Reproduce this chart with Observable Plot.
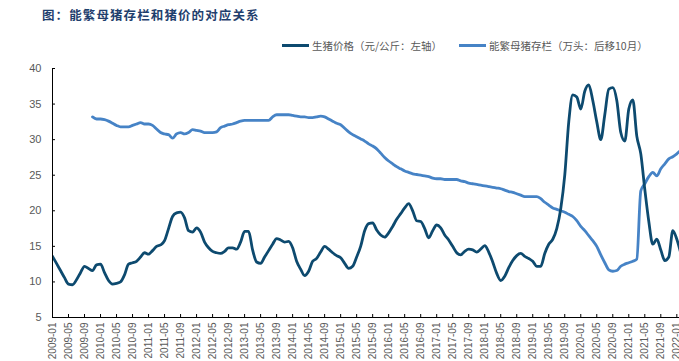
<!DOCTYPE html>
<html><head><meta charset="utf-8">
<script src="https://cdn.jsdelivr.net/npm/d3@7"></script>
<script src="https://cdn.jsdelivr.net/npm/@observablehq/plot@0.6"></script>
<style>
body{margin:0;background:#fff;width:679px;height:361px;overflow:hidden;position:relative;font-family:"Liberation Sans",Arial,sans-serif}
#title{position:absolute;left:42px;top:5px;font-weight:bold;font-size:12.5px;font-family:"Noto Sans CJK SC",sans-serif;color:#1f3f6e;letter-spacing:1.1px;white-space:nowrap}
.leg{position:absolute;top:37px;font-size:10.5px;color:#595959;font-family:"Noto Sans CJK SC",sans-serif;display:flex;align-items:center;white-space:nowrap;height:16px}
.sw{display:inline-block;width:27px;height:3px;margin-right:3px}
#chart{position:absolute;left:0;top:60px}
</style></head>
<body>
<div id="title">图：能繁母猪存栏和猪价的对应关系</div>
<div class="leg" style="left:282px"><span class="sw" style="background:#0d4a6f"></span>生猪价格（元/公斤：左轴）</div>
<div class="leg" style="left:459px"><span class="sw" style="background:#4683c6"></span>能繁母猪存栏（万头：后移10月）</div>
<div id="chart"></div>
<script>
const priceStart = "2009-01";
const priceValues = [
13.6,12.6,11.6,10.6,9.7,9.6,10.3,11.3,12.2,11.9,11.6,12.4,
12.5,11.3,10.2,9.7,9.8,10.0,11.0,12.5,12.7,12.9,13.5,14.1,
13.9,14.4,15.0,15.2,15.8,17.5,19.2,19.7,19.8,19.0,17.2,17.0,
17.6,17.0,15.6,14.8,14.3,14.1,14.0,14.3,14.8,14.8,14.6,15.6,
17.1,17.1,14.5,12.8,12.6,13.5,14.4,15.3,16.1,15.9,15.6,15.7,
14.8,12.9,11.8,10.9,11.5,12.9,13.3,14.2,15.0,14.6,14.1,13.7,
13.4,12.6,11.9,12.2,13.5,15.0,17.2,18.2,18.3,17.3,16.6,16.3,
16.9,17.8,18.8,19.6,20.4,21.0,20.0,18.6,18.5,17.5,16.2,17.2,
18.0,17.6,16.6,15.9,15.0,14.1,13.8,14.3,14.6,14.5,14.2,14.6,
15.1,14.2,12.8,11.2,10.2,10.8,12.0,13.0,13.7,14.0,13.6,13.3,
12.9,12.2,12.2,14.0,15.3,16.0,17.5,20.3,25.0,32.5,36.3,36.0,
34.3,36.8,37.7,35.5,32.5,30.0,33.5,37.1,37.3,35.5,31.0,29.8,
34.3,35.6,30.5,28.0,23.0,18.5,15.3,16.0,14.5,13.0,13.5,17.2,
16.0,14.0
];
const sowStart = "2009-11";
const sowValues = [
33.2,32.9,
32.9,32.8,32.6,32.3,32.0,31.8,31.8,31.8,32.0,32.2,32.4,32.2,
32.2,32.0,31.5,31.0,30.8,30.7,30.2,30.8,31.0,30.8,31.0,31.4,
31.3,31.2,31.0,31.0,31.0,31.1,31.7,31.9,32.1,32.2,32.4,32.6,
32.7,32.7,32.7,32.7,32.7,32.7,32.7,33.2,33.5,33.5,33.5,33.5,
33.4,33.3,33.2,33.2,33.1,33.1,33.2,33.3,33.2,32.9,32.6,32.3,
32.1,31.6,31.1,30.7,30.4,30.1,29.8,29.4,29.1,28.7,28.1,27.5,
27.0,26.6,26.2,25.9,25.6,25.4,25.2,25.1,25.0,24.9,24.8,24.6,
24.5,24.5,24.4,24.4,24.4,24.4,24.2,24.1,23.9,23.8,23.7,23.6,
23.5,23.4,23.3,23.2,23.1,22.9,22.7,22.6,22.4,22.2,22.0,22.0,
22.0,22.0,21.7,21.2,20.8,20.4,20.2,20.0,19.8,19.5,19.2,18.6,
17.8,17.2,16.5,15.8,15.0,13.8,12.7,11.7,11.5,11.6,12.2,12.5,
12.7,12.9,13.2,22.8,23.8,24.8,25.4,24.9,25.9,26.6,27.3,27.6,
28.0,28.5
];
const xTickLabels = [
"2009-01","2009-05","2009-09","2010-01","2010-05","2010-09","2011-01","2011-05","2011-09",
"2012-01","2012-05","2012-09","2013-01","2013-05","2013-09","2014-01","2014-05","2014-09",
"2015-01","2015-05","2015-09","2016-01","2016-05","2016-09","2017-01","2017-05","2017-09",
"2018-01","2018-05","2018-09","2019-01","2019-05","2019-09","2020-01","2020-05","2020-09",
"2021-01","2021-05","2021-09","2022-01"
];
const yTicks = [5,10,15,20,25,30,35,40];

const base = 2009*12;
const monthIndex = s => { const [y,m] = s.split("-").map(Number); return y*12 + (m-1) - base; };
const price = priceValues.map((v,i) => ({m: monthIndex(priceStart)+i, v}));
const sow = sowValues.map((v,i) => ({m: monthIndex(sowStart)+i, v}));
const xTicks = xTickLabels.map(monthIndex);
const labelOf = new Map(xTickLabels.map(s => [monthIndex(s), s]));

const chart = Plot.plot({
  width: 679, height: 301,
  marginLeft: 52, marginRight: 0, marginTop: 8, marginBottom: 44,
  style: {fontFamily: '"Liberation Sans", Arial, sans-serif', background: "#fff"},
  x: {type: "linear", domain: [0, 156.67], label: null},
  y: {domain: [5, 40], label: null},
  marks: [
    Plot.line(sow, {x: "m", y: "v", stroke: "#4683c6", strokeWidth: 2.8, curve: "monotone-x", clip: true}),
    Plot.line(price, {x: "m", y: "v", stroke: "#0d4a6f", strokeWidth: 2.8, curve: "monotone-x", clip: true}),
    Plot.ruleY([5], {stroke: "#000", strokeWidth: 1}),
    Plot.ruleX([0], {stroke: "#000", strokeWidth: 1}),
    Plot.axisY({ticks: yTicks, tickSize: 0, tickPadding: 11, fontSize: 11, color: "#595959", label: null}),
    Plot.axisY({ticks: yTicks, tickSize: -3, tickFormat: () => "", stroke: "#000", label: null}),
    Plot.axisX({ticks: xTicks, tickFormat: d => labelOf.get(d), tickRotate: -90, tickSize: 0, tickPadding: 5, fontSize: 10, color: "#595959", label: null}),
    Plot.axisX({ticks: xTicks, tickSize: -3, tickFormat: () => "", stroke: "#000", label: null})
  ]
});
document.getElementById("chart").appendChild(chart);
</script>
</body></html>
